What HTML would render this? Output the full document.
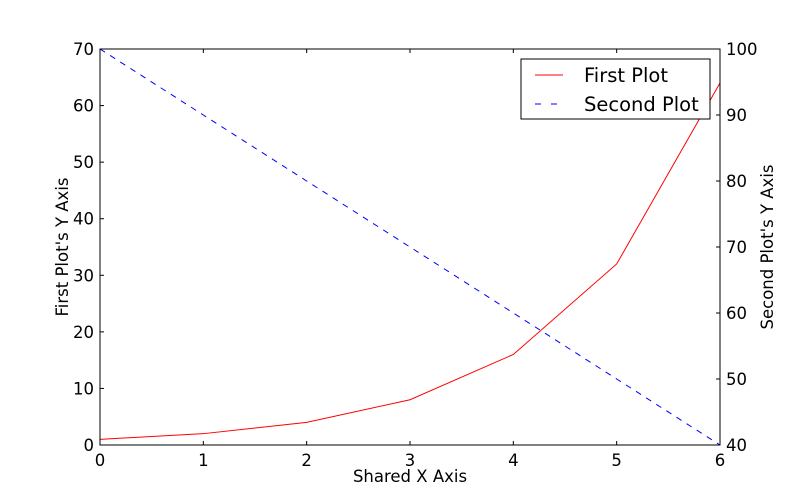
<!DOCTYPE html>
<html><head><meta charset="utf-8"><style>
body{margin:0;background:#fff;}
svg{display:block;font-family:"DejaVu Sans","Liberation Sans",sans-serif;}
</style></head><body>
<svg id="chart" width="800" height="494" viewBox="0 0 800 494">
<rect x="0" y="0" width="800" height="494" fill="#fff"/>
<g id="g"></g>
</svg>
<script>
const xValues=[0,1,2,3,4,5,6];
const firstSeries=[1,2,4,8,16,32,64];
const secondSeries=[100,90,80,70,60,50,40];
const xTicks=[0,1,2,3,4,5,6];
const leftTicks=[0,10,20,30,40,50,60,70];
const rightTicks=[40,50,60,70,80,90,100];
const L=100,R=720,T=49,B=445;
const sx=v=>L+(v-0)/6*(R-L);
const syL=v=>B-(v-0)/70*(B-T);
const syR=v=>B-(v-40)/60*(B-T);
const g=document.getElementById('g');
const NS='http://www.w3.org/2000/svg';
function mk(tag,attrs,parent){const e=document.createElementNS(NS,tag);for(const k in attrs)e.setAttribute(k,attrs[k]);(parent||g).appendChild(e);return e;}
function txt(s,x,y,anchor,size,extra){const t=mk('text',Object.assign({x:x,y:y,'text-anchor':anchor,'font-size':size,fill:'#000'},extra||{}));t.textContent=s;return t;}
let p1=mk('polyline',{points:xValues.map((x,i)=>sx(x)+','+syL(firstSeries[i])).join(' '),fill:'none',stroke:'#f00','stroke-width':1});


let p2=mk('polyline',{points:xValues.map((x,i)=>sx(x)+','+syR(secondSeries[i])).join(' '),fill:'none',stroke:'#00f','stroke-width':1,'stroke-dasharray':'6,6'});


let fr=mk('rect',{x:L,y:T,width:R-L,height:B-T,fill:'none',stroke:'#000','stroke-width':1});


xTicks.forEach(v=>{const x=sx(v);
mk('line',{x1:x,y1:B,x2:x,y2:B-4,stroke:'#000'});
mk('line',{x1:x,y1:T,x2:x,y2:T+4,stroke:'#000'});
let t=txt(String(v),x,B+21,'middle',16.5);

});
leftTicks.forEach(v=>{const y=syL(v);
mk('line',{x1:L,y1:y,x2:L+4,y2:y,stroke:'#000'});
let t=txt(String(v),L-6,y+6,'end',16.5);

});
rightTicks.forEach(v=>{const y=syR(v);
mk('line',{x1:R,y1:y,x2:R-4,y2:y,stroke:'#000'});
let t=txt(String(v),R+6,y+6,'start',16.5);

});
let xt=txt('Shared X Axis',(L+R)/2,482,'middle',16.5);


let yl=txt("First Plot's Y Axis",0,0,'middle',16.5,{transform:'translate(68,247) rotate(-90)'});


let yr=txt("Second Plot's Y Axis",0,0,'middle',16.5,{transform:'translate(773,247) rotate(-90)'});


let lg=mk('g',{});


mk('rect',{x:521,y:59,width:189,height:60,fill:'#fff',stroke:'#000'},lg);
mk('line',{x1:535,y1:75,x2:563,y2:75,stroke:'#f00'},lg);
mk('line',{x1:535,y1:104,x2:563,y2:104,stroke:'#00f','stroke-dasharray':'6,10'},lg);
let l1=txt('First Plot',584,82,'start',19.5);lg.appendChild(l1);


let l2=txt('Second Plot',584,111,'start',19.5);lg.appendChild(l2);


</script>
</body></html>
